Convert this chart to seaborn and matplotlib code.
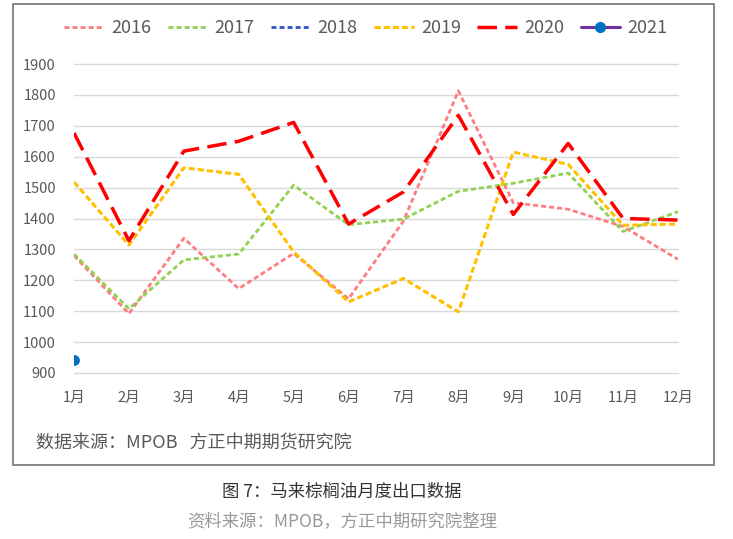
import pandas as pd
import numpy as np
import matplotlib
matplotlib.use('Agg')
import matplotlib.pyplot as plt
import seaborn as sns
from matplotlib.lines import Line2D
from matplotlib.patches import Rectangle

# 数据 (MPOB 马来棕榈油月度出口, 单位: 千吨)
months = ['1月', '2月', '3月', '4月', '5月', '6月', '7月', '8月', '9月', '10月', '11月', '12月']
exp_2016 = [1280, 1092, 1336, 1173, 1287, 1140, 1392, 1813, 1451, 1430, 1374, 1268]
exp_2017 = [1285, 1108, 1266, 1285, 1508, 1380, 1398, 1488, 1514, 1547, 1358, 1422]
exp_2018 = []  # 图中无数据
exp_2019 = [1518, 1314, 1564, 1543, 1292, 1130, 1206, 1098, 1615, 1575, 1378, 1382]
exp_2020 = [1677, 1328, 1618, 1650, 1711, 1382, 1486, 1734, 1413, 1643, 1400, 1395]
exp_2021 = [943]

yticks = [900, 1000, 1100, 1200, 1300, 1400, 1500, 1600, 1700, 1800, 1900]

sns.set_theme(style='white')
plt.rcParams['font.family'] = ['Noto Sans CJK SC', 'DejaVu Sans']
plt.rcParams['axes.unicode_minus'] = False

TXT = '#595959'

fig = plt.figure(figsize=(7.33, 5.39), dpi=100)
ax = fig.add_axes([74 / 733, 1 - 373 / 539, 604 / 733, 309 / 539])

# 外框
fig.patches.append(Rectangle((13 / 733, 1 - 465 / 539), 701 / 733, 461 / 539,
                             transform=fig.transFigure, fill=False,
                             edgecolor='#7f7f7f', linewidth=1.3))

styles = {
    '2016': dict(color='#FF7C80', lw=2.0, linestyle=(0, (1.8, 1.1))),
    '2017': dict(color='#92D050', lw=2.0, linestyle=(0, (1.8, 1.1))),
    '2018': dict(color='#2F55CC', lw=2.0, linestyle=(0, (1.8, 1.1))),
    '2019': dict(color='#FFC000', lw=2.2, linestyle=(0, (2.0, 1.0))),
    '2020': dict(color='#FF0000', lw=2.5, linestyle=(0, (5.6, 2.4))),
}
series = {'2016': exp_2016, '2017': exp_2017, '2019': exp_2019, '2020': exp_2020}

for name in ['2016', '2017', '2019', '2020']:
    vals = series[name]
    st = styles[name]
    sns.lineplot(x=np.arange(len(vals)), y=vals, ax=ax, color=st['color'],
                 lw=st['lw'], linestyle=st['linestyle'], zorder=3)

sns.lineplot(x=np.arange(len(exp_2021)), y=exp_2021, ax=ax, color='#7030A0',
             marker='o', markersize=7, markerfacecolor='#0070C0',
             markeredgecolor='#0070C0', zorder=4)

ax.set_xlim(0, 11)
ax.set_ylim(900, 1900)
ax.set_yticks(yticks)
ax.set_xticks(range(12))
ax.set_xticklabels(months)
ax.set_xlabel('')
ax.set_ylabel('')
ax.grid(axis='y', color='#D9D9D9', lw=1)
ax.grid(axis='x', visible=False)
for s in ax.spines.values():
    s.set_visible(False)
ax.tick_params(axis='y', length=0, pad=13, labelsize=10.5, labelcolor=TXT)
ax.tick_params(axis='x', length=0, pad=13, labelsize=10.5, labelcolor=TXT)
for gl in ax.get_ygridlines():
    gl.set_clip_on(False)

# 图例
handles = []
for name in ['2016', '2017', '2018', '2019', '2020']:
    st = styles[name]
    handles.append(Line2D([], [], color=st['color'], lw=st['lw'], linestyle=st['linestyle']))
handles.append(Line2D([], [], color='#7030A0', lw=2.2, marker='o', markersize=7,
                      markerfacecolor='#0070C0', markeredgecolor='#0070C0'))
labels = ['2016', '2017', '2018', '2019', '2020', '2021']
fig.legend(handles, labels, loc='center', bbox_to_anchor=(366 / 733, 1 - 28 / 539),
           ncol=6, frameon=False, fontsize=13, handlelength=2.2,
           handletextpad=0.4, columnspacing=0.9, labelcolor=TXT)

fig.text(36 / 733, 1 - 443 / 539, '数据来源：MPOB   方正中期期货研究院',
         fontsize=13, color=TXT, ha='left', va='center')
fig.text(342 / 733, 1 - 492 / 539, '图 7：马来棕榈油月度出口数据',
         fontsize=12.5, color='#333333', ha='center', va='center')
fig.text(342 / 733, 1 - 521 / 539, '资料来源：MPOB，方正中期研究院整理',
         fontsize=12.5, color='#999999', ha='center', va='center')

fig.savefig('out.png', dpi=100)
